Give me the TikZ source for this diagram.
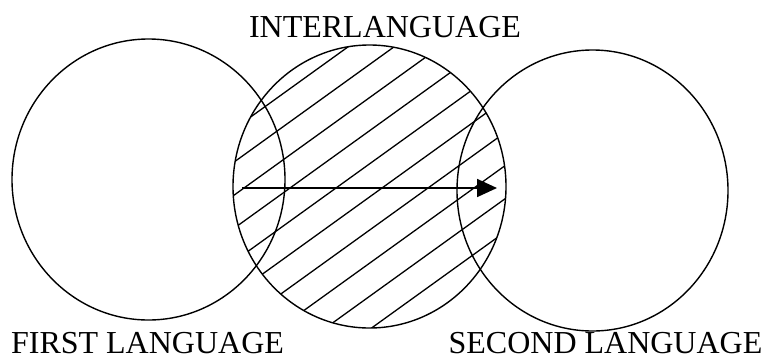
\documentclass[tikz,border=0pt]{standalone}
\usepackage{fontspec}
\setmainfont{Liberation Serif}
\usetikzlibrary{shapes.geometric,arrows.meta}
\begin{document}
\begin{tikzpicture}[x=1pt,y=-1pt,
  circ/.style={draw,ellipse,inner sep=0pt,line width=1.4pt},
  lbl/.style={anchor=base,inner sep=0pt,font=\fontsize{32}{32}\selectfont},
  hatch/.style={line width=1.3pt},
  arr/.style={line width=1.8pt,-{Triangle[length=20pt,width=18pt]}}]
\useasboundingbox (0,0) rectangle (765,360);
\node[circ,minimum width=273pt,minimum height=281pt] (first) at (148.5,179.5) {};
\node[circ,minimum width=271pt,minimum height=281pt] (second) at (592.5,190.5) {};
\node[circ,minimum width=273pt,minimum height=283pt,
  path picture={
    \foreach \x in {152,198,244,290,336,382,428,474,520,566}
      \draw[hatch] (\x-300-369.5,188+216-186.5) -- (\x+300-369.5,188-216-186.5);
  }] (inter) at (369.5,186.5) {};
\coordinate (as) at (242,188);
\coordinate (ae) at (497,188);
\draw[arr] (as) -- (ae);
\node[lbl] (tinter) at (385,37) {INTERLANGUAGE};
\node[lbl] (tfirst) at (147.5,353) {FIRST LANGUAGE};
\node[lbl] (tsecond) at (605.5,353) {SECOND LANGUAGE};
\end{tikzpicture}
\end{document}
